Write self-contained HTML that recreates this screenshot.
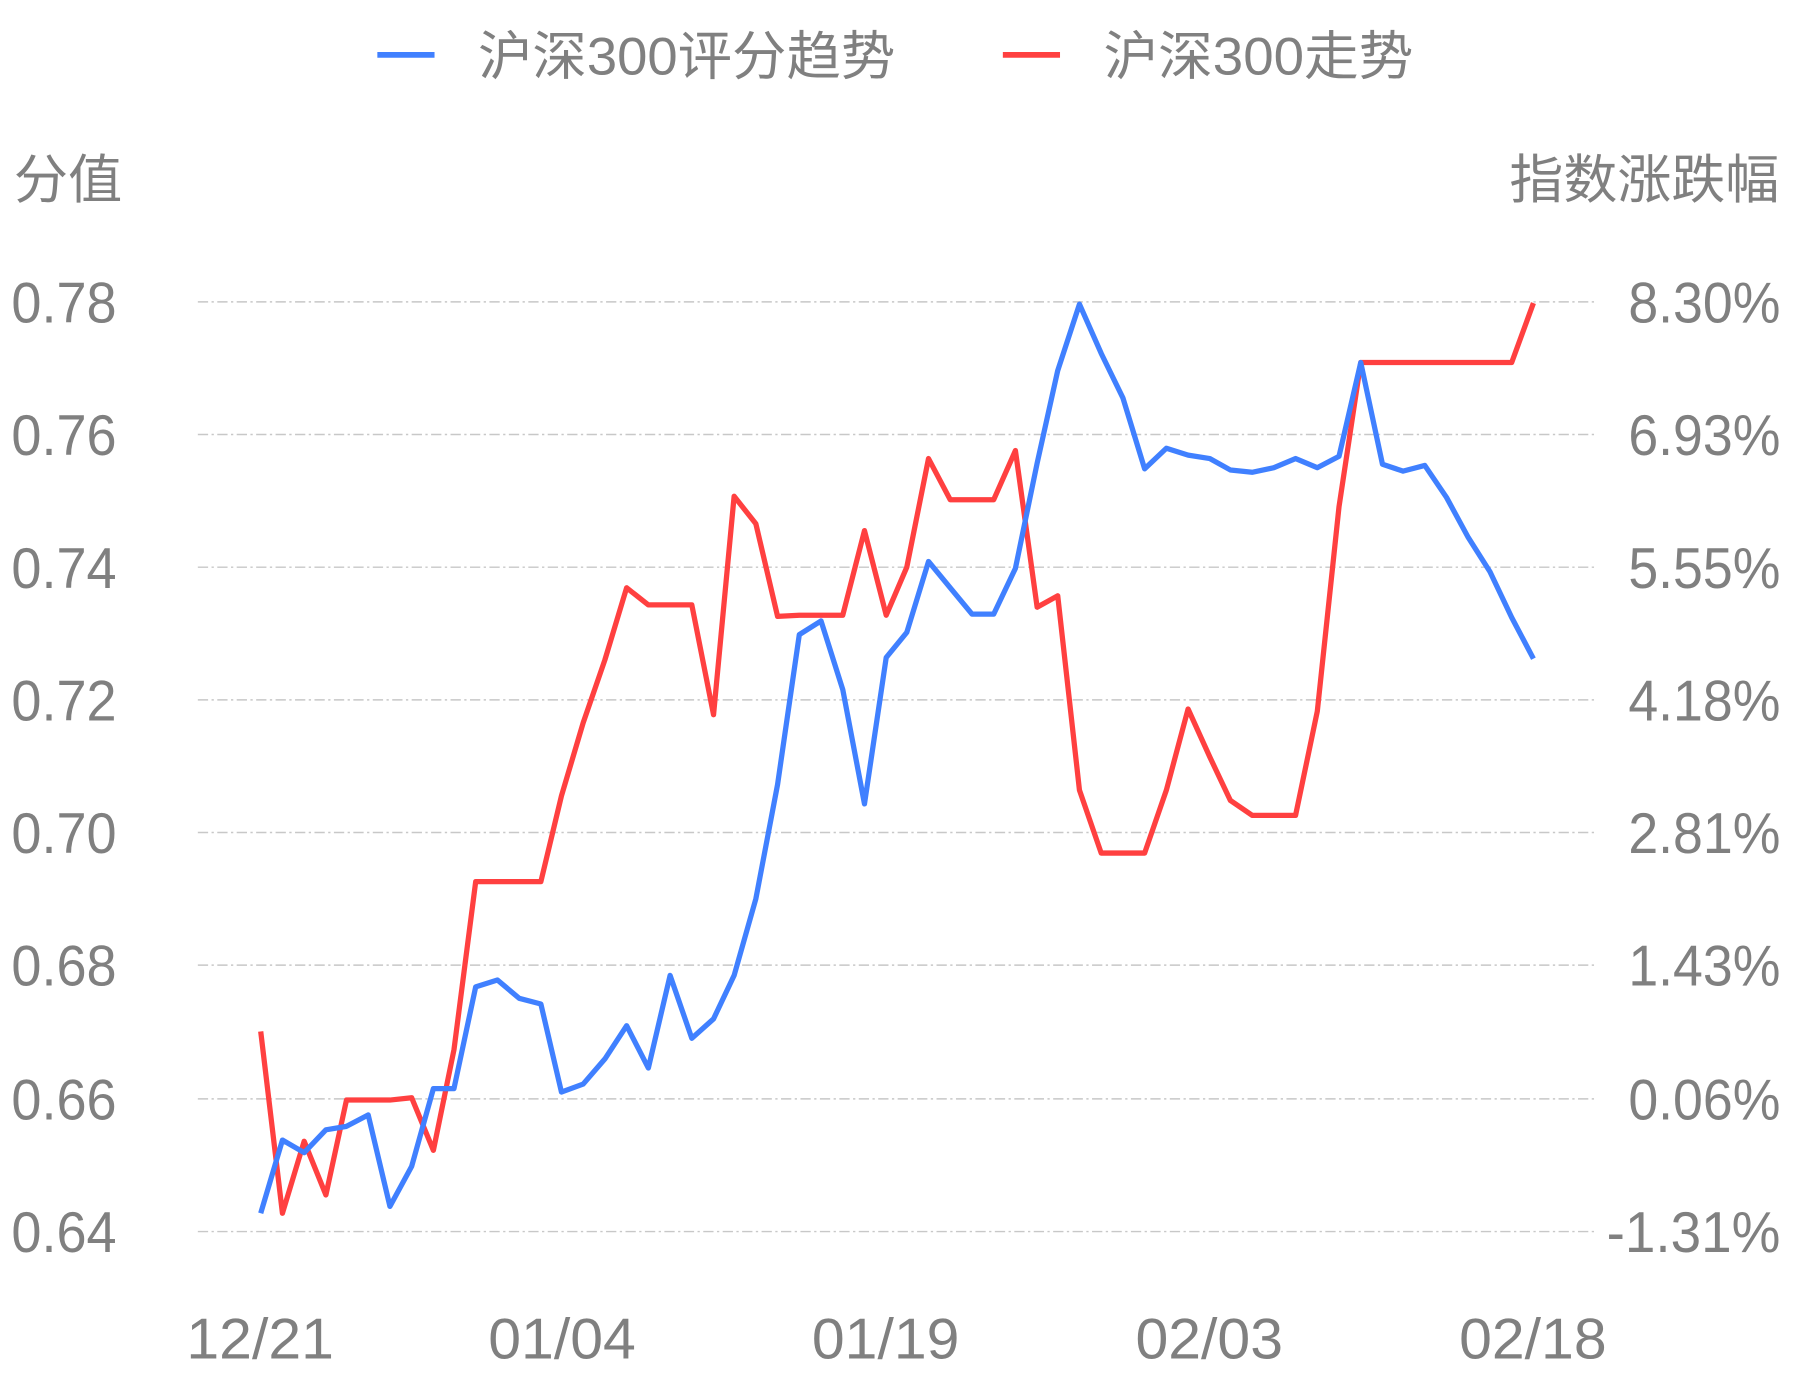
<!DOCTYPE html>
<html><head><meta charset="utf-8"><style>html,body{margin:0;padding:0;background:#fff;}svg{display:block}</style></head>
<body>
<svg width="1793" height="1380" viewBox="0 0 1568 1206.8" xmlns="http://www.w3.org/2000/svg">
<g stroke="#c8c8c8" stroke-width="1.3" stroke-dasharray="9 3 2 3">
<line x1="173" y1="264" x2="1397" y2="264"/>
<line x1="173" y1="380" x2="1397" y2="380"/>
<line x1="173" y1="496" x2="1397" y2="496"/>
<line x1="173" y1="612" x2="1397" y2="612"/>
<line x1="173" y1="728" x2="1397" y2="728"/>
<line x1="173" y1="844" x2="1397" y2="844"/>
<line x1="173" y1="961" x2="1397" y2="961"/>
<line x1="173" y1="1077" x2="1397" y2="1077"/>
</g>
<g font-family="'Liberation Sans','Noto Sans CJK SC',sans-serif" fill="#808080" font-size="50">
<text x="10" y="282" textLength="92" lengthAdjust="spacingAndGlyphs">0.78</text>
<text x="10" y="398" textLength="92" lengthAdjust="spacingAndGlyphs">0.76</text>
<text x="10" y="514" textLength="92" lengthAdjust="spacingAndGlyphs">0.74</text>
<text x="10" y="630" textLength="92" lengthAdjust="spacingAndGlyphs">0.72</text>
<text x="10" y="746" textLength="92" lengthAdjust="spacingAndGlyphs">0.70</text>
<text x="10" y="862" textLength="92" lengthAdjust="spacingAndGlyphs">0.68</text>
<text x="10" y="979" textLength="92" lengthAdjust="spacingAndGlyphs">0.66</text>
<text x="10" y="1095" textLength="92" lengthAdjust="spacingAndGlyphs">0.64</text>
<text x="1424" y="282" textLength="133" lengthAdjust="spacingAndGlyphs">8.30%</text>
<text x="1424" y="398" textLength="133" lengthAdjust="spacingAndGlyphs">6.93%</text>
<text x="1424" y="514" textLength="133" lengthAdjust="spacingAndGlyphs">5.55%</text>
<text x="1424" y="630" textLength="133" lengthAdjust="spacingAndGlyphs">4.18%</text>
<text x="1424" y="746" textLength="133" lengthAdjust="spacingAndGlyphs">2.81%</text>
<text x="1424" y="862" textLength="133" lengthAdjust="spacingAndGlyphs">1.43%</text>
<text x="1424" y="979" textLength="133" lengthAdjust="spacingAndGlyphs">0.06%</text>
<text x="1405" y="1095" textLength="152" lengthAdjust="spacingAndGlyphs">-1.31%</text>
<text x="163" y="1188" textLength="129" lengthAdjust="spacingAndGlyphs">12/21</text>
<text x="427" y="1188" textLength="129" lengthAdjust="spacingAndGlyphs">01/04</text>
<text x="710" y="1188" textLength="129" lengthAdjust="spacingAndGlyphs">01/19</text>
<text x="993" y="1188" textLength="129" lengthAdjust="spacingAndGlyphs">02/03</text>
<text x="1276" y="1188" textLength="129" lengthAdjust="spacingAndGlyphs">02/18</text>
<text x="12" y="173" font-size="46" textLength="95" lengthAdjust="spacingAndGlyphs">分值</text>
<text x="1320" y="173" font-size="46" textLength="236" lengthAdjust="spacingAndGlyphs">指数涨跌幅</text>
<text x="418" y="65" font-size="46" textLength="365" lengthAdjust="spacingAndGlyphs">沪深300评分趋势</text>
<text x="965" y="65" font-size="46" textLength="271" lengthAdjust="spacingAndGlyphs">沪深300走势</text>
</g>
<line x1="330" y1="48" x2="380" y2="48" stroke="#4080ff" stroke-width="5"/>
<line x1="877" y1="48" x2="927" y2="48" stroke="#ff4040" stroke-width="5"/>
<polyline fill="none" stroke="#ff4040" stroke-width="4.6" stroke-linejoin="round" points="228,902 247,1061 266,998 285,1045 303,962 322,962 341,962 360,960 379,1006 397,918 416,771 435,771 454,771 473,771 491,696 510,632 529,577 548,514 567,529 586,529 605,529 624,625 642,434 661,458 680,539 699,538 718,538 737,538 756,464 775,538 793,496 812,401 831,437 850,437 869,437 888,394 907,531 925,521 944,691 963,746 982,746 1001,746 1020,691 1039,620 1058,662 1076,700 1095,713 1114,713 1133,713 1152,622 1171,443 1190,317 1209,317 1227,317 1246,317 1265,317 1284,317 1303,317 1322,317 1341,265"/>
<polyline fill="none" stroke="#4080ff" stroke-width="4.6" stroke-linejoin="round" points="228,1061 247,997 266,1008 285,988 303,985 322,975 341,1055 360,1020 379,952 397,952 416,863 435,857 454,873 473,878 491,955 510,948 529,926 548,897 567,934 586,853 605,908 624,891 642,853 661,786 680,686 699,555 718,543 737,603 756,703 775,575 793,553 812,491 831,514 850,537 869,537 888,497 907,405 925,324 944,266 963,309 982,348 1001,410 1020,392 1039,398 1058,401 1076,411 1095,413 1114,409 1133,401 1152,409 1171,399 1190,317 1209,406 1227,412 1246,407 1265,435 1284,470 1303,500 1322,540 1341,576"/>
</svg>
</body></html>
